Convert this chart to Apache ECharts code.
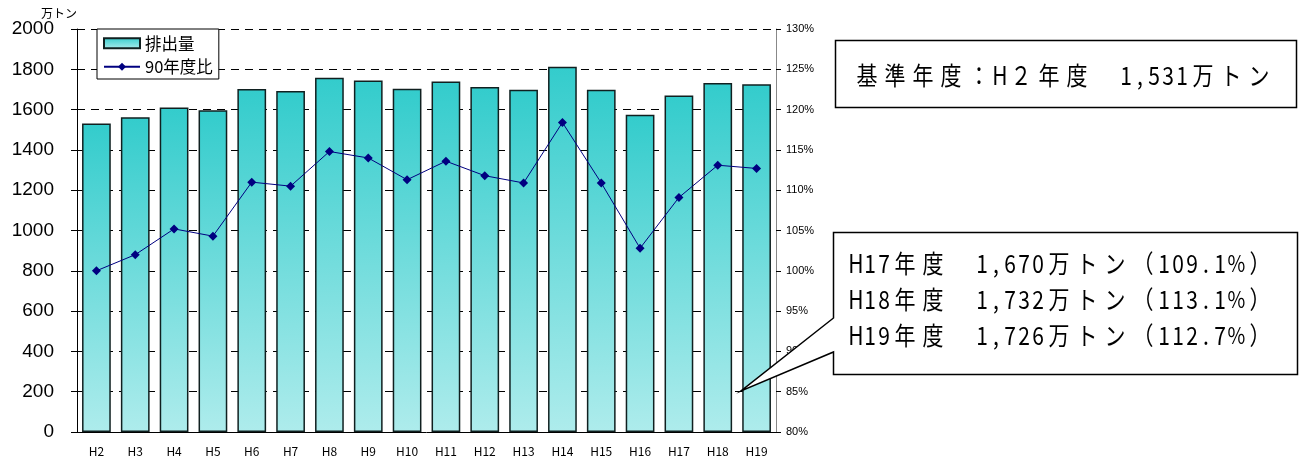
<!DOCTYPE html>
<html><head><meta charset="utf-8">
<script src="https://cdn.jsdelivr.net/npm/echarts@6/dist/echarts.min.js"></script>
<style>html,body{margin:0;padding:0;background:#fff}#c{width:1302px;height:459px}</style>
</head><body><div id="c"></div>
<script>
const categories = ['H2','H3','H4','H5','H6','H7','H8','H9','H10','H11','H12','H13','H14','H15','H16','H17','H18','H19'];
const emissions = [1531,1562,1611,1597,1702,1692,1758,1745,1704,1740,1712,1698,1813,1698,1574,1670,1732,1726];
const ratio90 = [100.0,102.0,105.2,104.3,111.0,110.5,114.8,114.0,111.3,113.6,111.8,110.9,118.4,110.9,102.8,109.1,113.1,112.7];
const leftTicks = {min:0, max:2000, interval:200};
const rightTicks = {min:80, max:130, interval:5};
const baseText = '基準年度：H２年度　1,531万トン';
const noteLines = ['H17年度　1,670万トン（109.1%）','H18年度　1,732万トン（113.1%）','H19年度　1,726万トン（112.7%）'];

const jp = '"Noto Sans CJK JP", sans-serif';
const SX = 0.84;
// monospace-like rich text: full-width and half-width cells
function mono(s){
  return Array.from(s).map(c => (c === '%' ? '{p|' : c.charCodeAt(0) > 255 ? '{f|' : '{h|') + c + '}').join('');
}
const richCells = {
  f:{width:28/SX, align:'center', fontSize:25, fontFamily:'Noto Sans CJK JP', color:'#000'},
  h:{width:14/SX, align:'center', fontSize:25, fontFamily:'Noto Sans CJK JP', color:'#000'},
  p:{width:19/SX, align:'center', fontSize:23, fontFamily:'Noto Sans CJK JP', color:'#000'}
};
function boxText(x, y, s){
  return {type:'text', x:x, y:y, scaleX:SX, z:11,
    style:{text:mono(s), rich:richCells, verticalAlign:'middle', textVerticalAlign:'middle'}};
}

const chart = echarts.init(document.getElementById('c'));
chart.setOption({
  animation:false,
  backgroundColor:'#fff',
  grid:{left:77, right:526, top:29, bottom:27},
  legend:{
    left:97, top:29, orient:'vertical', backgroundColor:'#fff', borderColor:'#000', borderWidth:1,
    padding:[6,6,4,6], itemGap:7, itemWidth:36, itemHeight:10,
    textStyle:{fontSize:16.5, color:'#000', fontFamily:jp},
    data:[{name:'排出量', icon:'rect'},{name:'90年度比'}]
  },
  xAxis:{type:'category', data:categories,
    axisLine:{lineStyle:{color:'#000', width:1}},
    axisTick:{inside:true, length:4, lineStyle:{color:'#000'}},
    axisLabel:{fontSize:12, color:'#000', margin:13, fontFamily:jp}
  },
  yAxis:[
    {type:'value', min:leftTicks.min, max:leftTicks.max, interval:leftTicks.interval,
     name:'万トン', nameGap:7, nameTextStyle:{fontSize:12, color:'#000', align:'center', padding:[0,0,0,-36], fontFamily:jp},
     axisLine:{show:true, lineStyle:{color:'#000'}},
     axisTick:{show:true, length:6, lineStyle:{color:'#000'}},
     axisLabel:{fontSize:19, color:'#000', margin:23, formatter:v => String(v), fontFamily:'"Liberation Sans", Arial, sans-serif'},
     splitLine:{show:true, lineStyle:{color:'#000', type:[8,6], width:1}}
    },
    {type:'value', min:rightTicks.min, max:rightTicks.max, interval:rightTicks.interval, position:'right',
     axisLine:{show:true, lineStyle:{color:'#888'}},
     axisTick:{show:true, length:5, lineStyle:{color:'#000'}},
     axisLabel:{fontSize:11, color:'#000', margin:10, formatter:'{value}%', fontFamily:'"Liberation Sans", Arial, sans-serif'},
     splitLine:{show:false}
    }
  ],
  series:[
    {name:'排出量', type:'bar', data:emissions, barWidth:'74%', yAxisIndex:0,
     itemStyle:{borderColor:'#102020', borderWidth:1.5,
       color:new echarts.graphic.LinearGradient(0,0,0,1,[{offset:0,color:'#33CCCC'},{offset:1,color:'#AEECEC'}])}},
    {name:'90年度比', type:'line', data:ratio90, yAxisIndex:1, z:5,
     symbol:'diamond', symbolSize:9, lineStyle:{color:'#000080', width:1}, itemStyle:{color:'#000080'}}
  ],
  graphic:[
    {type:'rect', shape:{x:835.5, y:40.5, width:461, height:67}, style:{fill:'#fff', stroke:'#000', lineWidth:1.5}, z:10},
    boxText(853, 75, baseText),
    {type:'polygon', shape:{points:[[833.5,232.5],[1297.5,232.5],[1297.5,374.5],[833.5,374.5],[833.5,352],[741,391],[833.5,318]]},
      style:{fill:'#fff', stroke:'#000', lineWidth:1.5}, z:10},
    boxText(849, 263, noteLines[0]),
    boxText(849, 299, noteLines[1]),
    boxText(849, 335, noteLines[2])
  ]
});
</script></body></html>
